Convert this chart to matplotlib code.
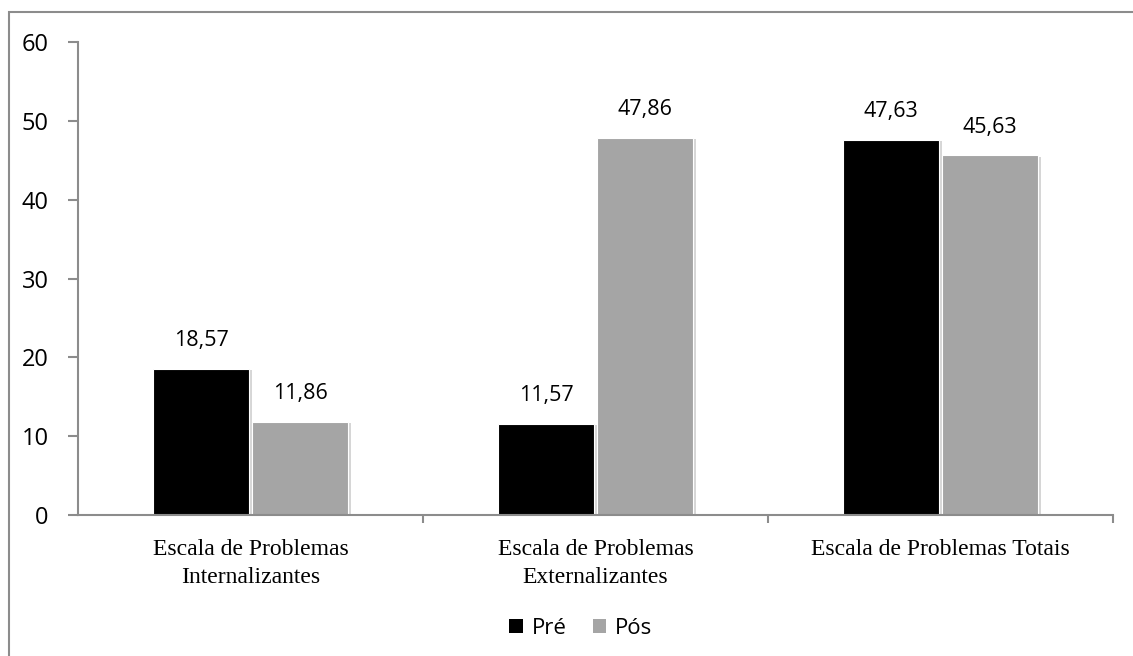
import numpy as np
import matplotlib.pyplot as plt
import matplotlib.patheffects as pe
from matplotlib.patches import Rectangle

# ── DATA ───────────────────────────────────────────────
categories = ["Escala de Problemas\nInternalizantes",
              "Escala de Problemas\nExternalizantes",
              "Escala de Problemas Totais"]
pre = [18.57, 11.57, 47.63]
pos = [11.86, 47.86, 45.63]
y_ticks = [0, 10, 20, 30, 40, 50, 60]

def fmt(v):
    return f"{v:.2f}".replace(".", ",")

# ── FIGURE ─────────────────────────────────────────────
fig = plt.figure(figsize=(11.33, 6.56), dpi=100)
ax = fig.add_axes([78 / 1133, 1 - 515 / 656, 1035 / 1133, 473 / 656])

# outer frame (right/bottom run off the canvas)
fig.patches.append(Rectangle((9 / 1133, -0.1), 1.2, 1 - 12 / 656 + 0.1,
                             transform=fig.transFigure, fill=False,
                             edgecolor="#8c8c8c", linewidth=1.5))

x = np.arange(len(categories))
w = 0.281
shadow = [pe.SimplePatchShadow(offset=(2, -1), shadow_rgbFace="#bbbbbb", alpha=0.6),
          pe.Normal()]
b1 = ax.bar(x - w / 2 - 0.003, pre, w, color="black", edgecolor="white",
            linewidth=0.8, label="Pré", path_effects=shadow)
b2 = ax.bar(x + w / 2 + 0.003, pos, w, color="#a5a5a5", edgecolor="white",
            linewidth=0.8, label="Pós", path_effects=shadow)

for bars, vals in ((b1, pre), (b2, pos)):
    for rect, v in zip(bars, vals):
        ax.text(rect.get_x() + rect.get_width() / 2, v + 2.2, fmt(v),
                ha="center", va="bottom", fontsize=15.5, family="Open Sans")

ax.set_xlim(-0.5, 2.5)
ax.set_ylim(0, 60)
ax.set_yticks(y_ticks)
ax.set_yticklabels([str(t) for t in y_ticks], family="Open Sans", fontsize=17)
ax.set_xticks([0.5, 1.5, 2.5])
ax.set_xticklabels([])
ax.set_xticks(x, minor=True)
ax.set_xticklabels(categories, minor=True, family="Liberation Serif", fontsize=17,
                   linespacing=1.45)
ax.tick_params(axis="x", which="minor", length=0, pad=17)
ax.tick_params(axis="x", which="major", length=6, color="#8c8c8c", width=1.5)
ax.tick_params(axis="y", length=7, color="#8c8c8c", width=1.5, pad=14)

for s in ("top", "right"):
    ax.spines[s].set_visible(False)
for s in ("left", "bottom"):
    ax.spines[s].set_color("#8c8c8c")
    ax.spines[s].set_linewidth(1.5)

# legend keys drawn as plain squares
h1 = Rectangle((0, 0), 1, 1, facecolor="black", edgecolor="none")
h2 = Rectangle((0, 0), 1, 1, facecolor="#a5a5a5", edgecolor="none")
fig.legend(handles=[h1, h2], labels=["Pré", "Pós"], loc="center",
           bbox_to_anchor=(581 / 1133, 1 - 628 / 656),
           ncol=2, frameon=False, prop={"family": "Open Sans", "size": 16},
           handlelength=0.6, handleheight=0.6, handletextpad=0.4, columnspacing=1.2)

plt.savefig("out.png", dpi=100)
